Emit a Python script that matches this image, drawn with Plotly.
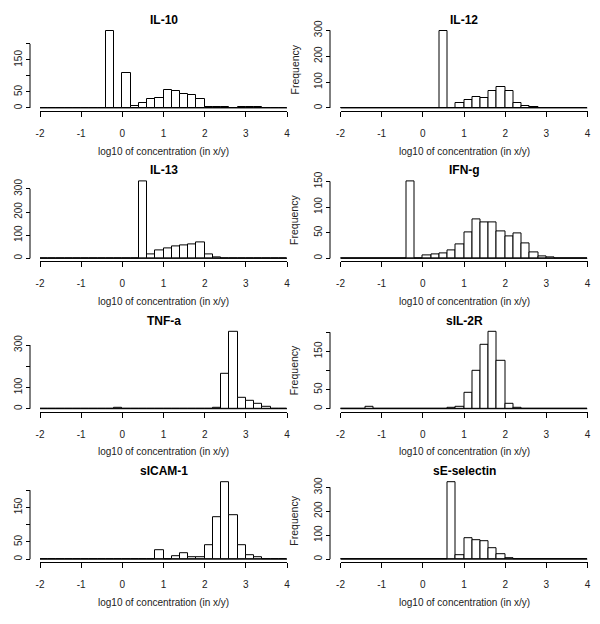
import numpy as np
import plotly.graph_objects as go

# shared histogram bins (log10 of concentration), width 0.2 from -2 to 4
bin_edges = np.linspace(-2, 4, 31)

panel_titles = ["IL-10", "IL-12", "IL-13", "IFN-g",
                "TNF-a", "sIL-2R", "sICAM-1", "sE-selectin"]

# counts per bin
il10 = [0, 0, 0, 0, 0, 0, 0, 0, 240, 0, 108, 7, 16, 27, 30,
        56, 54, 44, 39, 28, 4, 4, 4, 0, 2, 2, 2, 0, 0, 0]
il12 = [0, 0, 0, 0, 0, 0, 0, 0, 0, 0, 0, 0, 297, 0, 19,
        31, 41, 38, 66, 81, 66, 19, 9, 4, 0, 0, 0, 0, 0, 0]
il13 = [0, 0, 0, 0, 0, 0, 0, 0, 0, 0, 0, 0, 332, 17, 36,
        43, 50, 58, 62, 69, 19, 6, 0, 0, 0, 0, 0, 0, 0, 0]
ifng = [0, 0, 0, 0, 0, 0, 0, 0, 150, 0, 6, 8, 10, 15, 27,
        50, 76, 70, 70, 53, 43, 49, 30, 11, 3, 2, 0, 0, 0, 0]
tnfa = [0, 0, 0, 0, 0, 0, 0, 0, 0, 3, 0, 0, 0, 0, 0,
        0, 0, 0, 0, 0, 0, 3, 164, 362, 53, 37, 25, 11, 0, 0]
sil2r = [0, 0, 0, 4, 0, 0, 0, 0, 0, 0, 0, 0, 0, 2, 4,
         42, 99, 166, 201, 125, 12, 2, 0, 0, 0, 0, 0, 0, 0, 0]
sicam1 = [0, 0, 0, 0, 0, 0, 0, 0, 0, 0, 0, 0, 0, 0, 27,
          0, 9, 17, 7, 7, 40, 122, 223, 127, 40, 10, 5, 0, 0, 0]
seselectin = [0, 0, 0, 0, 0, 0, 0, 0, 0, 0, 0, 0, 0, 321, 15,
              87, 80, 76, 46, 21, 5, 0, 0, 0, 0, 0, 0, 0, 0, 0]

counts = [il10, il12, il13, ifng, tnfa, sil2r, sicam1, seselectin]

xtick_vals = [-2, -1, 0, 1, 2, 3, 4]
xtick_text = ["-2", "-1", "0", "1", "2", "3", "4"]
ytick_vals = [
    [0, 50, 100, 150, 200],
    [0, 100, 200, 300],
    [0, 100, 200, 300],
    [0, 50, 100, 150],
    [0, 100, 200, 300],
    [0, 50, 100, 150, 200],
    [0, 50, 100, 150, 200],
    [0, 100, 200, 300],
]
# R drops labels that would overlap
ytick_text = [
    ["0", "50", "", "150", ""],
    ["0", "100", "200", "300"],
    ["0", "100", "200", "300"],
    ["0", "50", "100", "150"],
    ["0", "100", "", "300"],
    ["0", "50", "", "150", ""],
    ["0", "50", "", "150", ""],
    ["0", "100", "200", "300"],
]

x_label = "log10 of concentration (in x/y)"
y_label = "Frequency"

W, H = 600, 624
FONT = "Liberation Sans, Arial, sans-serif"
INK = "#222222"


def px_x(s):
    return s / W


def px_y(s):
    return 1 - s / H


# left/right column: x-axis start px, end px, y-axis px
columns = [(40, 287, 30), (340.5, 587.5, 330)]

centers = (bin_edges[:-1] + bin_edges[1:]) / 2
bin_width = bin_edges[1] - bin_edges[0]

fig = go.Figure()
layout_axes = {}
annotations = []
shapes = []

for k, (title, cnt) in enumerate(zip(panel_titles, counts)):
    row, col = divmod(k, 2)
    n = k + 1
    xa = "x" if n == 1 else f"x{n}"
    ya = "y" if n == 1 else f"y{n}"
    x0, x1, ypos = columns[col]
    base = 108 + 150.4 * row  # pixel row of count 0
    bot_px, top_px = base + 3, base - 80
    m = max(cnt)

    fig.add_trace(go.Bar(
        x=centers, y=cnt, width=bin_width,
        marker=dict(color="white", line=dict(color="black", width=1)),
        xaxis=xa, yaxis=ya, showlegend=False, hoverinfo="x+y",
    ))
    # empty bins show up as a flat line along zero
    fig.add_trace(go.Scatter(
        x=[bin_edges[0], bin_edges[-1]], y=[0, 0], mode="lines",
        line=dict(color="black", width=1),
        xaxis=xa, yaxis=ya, showlegend=False, hoverinfo="skip",
    ))

    layout_axes["xaxis" + ("" if n == 1 else str(n))] = dict(
        domain=[px_x(x0), px_x(x1)], range=[bin_edges[0], bin_edges[-1]],
        anchor=ya, tickvals=xtick_vals, ticktext=xtick_text,
        ticks="outside", ticklen=5,
        tickcolor="black", showline=True, linecolor="black", linewidth=1,
        showgrid=False, zeroline=False, ticklabelstandoff=8, automargin=False,
        tickfont=dict(size=10, color=INK, family=FONT),
    )
    layout_axes["yaxis" + ("" if n == 1 else str(n))] = dict(
        domain=[px_y(bot_px), px_y(top_px)], range=[-0.04 * m, 1.04 * m],
        anchor="free", position=px_x(ypos),
        tickvals=ytick_vals[k], ticktext=ytick_text[k], tickangle=-90,
        ticks="outside", ticklen=4, tickcolor="black", automargin=False,
        showline=False, showgrid=False, zeroline=False,
        tickfont=dict(size=10, color=INK, family=FONT),
    )
    # y axis line only spans the tick range, like base R
    shapes.append(dict(
        type="line", xref="paper", yref=ya,
        x0=px_x(ypos), x1=px_x(ypos), y0=0, y1=ytick_vals[k][-1],
        line=dict(color="black", width=1),
    ))

    annotations.append(dict(
        text=f"<b>{title}</b>", xref="paper", yref="paper",
        x=px_x((x0 + x1) / 2), y=px_y(base - 88),
        xanchor="center", yanchor="middle",
        showarrow=False, font=dict(size=12, color="black", family=FONT),
    ))
    annotations.append(dict(
        text=x_label, xref="paper", yref="paper",
        x=px_x((x0 + x1) / 2), y=px_y(base + 43),
        xanchor="center", yanchor="middle",
        showarrow=False, font=dict(size=10, color=INK, family=FONT),
    ))
    if col == 1:
        annotations.append(dict(
            text=y_label, xref="paper", yref="paper", textangle=-90,
            x=px_x(294), y=px_y(base - 38.5),
            xanchor="center", yanchor="middle",
            showarrow=False, font=dict(size=10.5, color=INK, family=FONT),
        ))

fig.update_layout(
    width=W, height=H,
    margin=dict(l=0, r=0, t=0, b=0, autoexpand=False),
    paper_bgcolor="white", plot_bgcolor="white",
    bargap=0, showlegend=False,
    annotations=annotations, shapes=shapes,
    **layout_axes,
)

# drop the default page margin so the figure sits at the window origin
fig.write_html(
    "out.html",
    config={"displayModeBar": False},
    post_script="document.body.style.margin='0px';",
)
